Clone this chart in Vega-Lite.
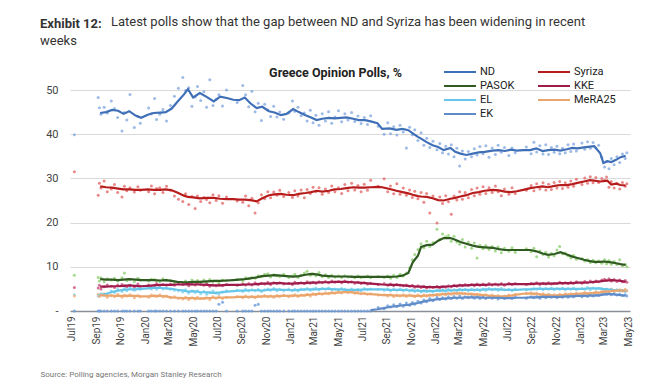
{
  "$schema": "https://vega.github.io/schema/vega-lite/v6.json",
  "width": 560,
  "height": 221,
  "autosize": {"type": "none"},
  "padding": {"left": 70, "top": 90, "right": 20, "bottom": 73},
  "background": "white",
  "config": {"view": {"stroke": null}, "font": "Roboto"},
  "title": {
    "text": "Exhibit 12:",
    "subtitle": ["\u200b\u00a0\u00a0\u00a0\u00a0\u00a0\u00a0\u00a0\u00a0\u00a0\u00a0\u00a0\u00a0\u00a0\u00a0\u00a0\u00a0\u00a0\u00a0\u00a0\u00a0\u00a0\u00a0Latest polls show that the gap between ND and Syriza has been widening in recent", "weeks"],
    "anchor": "start",
    "frame": "group",
    "dx": -30,
    "offset": 15,
    "fontSize": 13,
    "fontWeight": "bold",
    "color": "#333333",
    "subtitleFontSize": 13,
    "subtitleColor": "#333333",
    "subtitleFontWeight": "normal",
    "subtitlePadding": -15,
    "subtitleLineHeight": 19
  },
  "datasets": {
    "avg": [
      {"d": "2019-09-10", "ND": 44.8, "Syriza": 28.2, "PASOK": 7.2, "KKE": 5.5, "EL": 3.6, "MeRA25": 3.6},
      {"d": "2019-09-25", "ND": 45.0, "Syriza": 28.0, "PASOK": 7.1, "KKE": 5.5, "EL": 3.9, "MeRA25": 3.5},
      {"d": "2019-10-10", "ND": 45.5, "Syriza": 27.9, "PASOK": 7.1, "KKE": 5.6, "EL": 4.3, "MeRA25": 3.5},
      {"d": "2019-10-25", "ND": 45.3, "Syriza": 27.7, "PASOK": 7.0, "KKE": 5.6, "EL": 4.6, "MeRA25": 3.4},
      {"d": "2019-11-08", "ND": 44.6, "Syriza": 27.5, "PASOK": 7.1, "KKE": 5.7, "EL": 4.8, "MeRA25": 3.4},
      {"d": "2019-11-22", "ND": 45.2, "Syriza": 27.5, "PASOK": 7.2, "KKE": 5.8, "EL": 4.9, "MeRA25": 3.5},
      {"d": "2019-12-08", "ND": 44.2, "Syriza": 27.4, "PASOK": 7.1, "KKE": 5.7, "EL": 4.9, "MeRA25": 3.4},
      {"d": "2019-12-22", "ND": 43.7, "Syriza": 27.4, "PASOK": 7.0, "KKE": 5.6, "EL": 5.0, "MeRA25": 3.3},
      {"d": "2020-01-08", "ND": 44.4, "Syriza": 27.5, "PASOK": 7.0, "KKE": 5.7, "EL": 5.1, "MeRA25": 3.3},
      {"d": "2020-01-22", "ND": 44.8, "Syriza": 27.4, "PASOK": 7.0, "KKE": 5.8, "EL": 5.2, "MeRA25": 3.4},
      {"d": "2020-02-08", "ND": 44.9, "Syriza": 27.4, "PASOK": 6.9, "KKE": 5.9, "EL": 5.2, "MeRA25": 3.4},
      {"d": "2020-02-22", "ND": 45.0, "Syriza": 27.5, "PASOK": 7.0, "KKE": 5.9, "EL": 5.1, "MeRA25": 3.3},
      {"d": "2020-03-08", "ND": 45.8, "Syriza": 27.3, "PASOK": 6.8, "KKE": 5.9, "EL": 5.0, "MeRA25": 3.1},
      {"d": "2020-03-22", "ND": 47.3, "Syriza": 26.8, "PASOK": 6.6, "KKE": 6.0, "EL": 4.8, "MeRA25": 3.0},
      {"d": "2020-04-08", "ND": 49.0, "Syriza": 26.1, "PASOK": 6.5, "KKE": 6.0, "EL": 4.6, "MeRA25": 2.9},
      {"d": "2020-04-18", "ND": 50.2, "Syriza": 25.8, "PASOK": 6.5, "KKE": 6.1, "EL": 4.4, "MeRA25": 2.9},
      {"d": "2020-05-01", "ND": 48.3, "Syriza": 25.7, "PASOK": 6.6, "KKE": 6.0, "EL": 4.5, "MeRA25": 2.9},
      {"d": "2020-05-18", "ND": 49.3, "Syriza": 25.5, "PASOK": 6.6, "KKE": 6.0, "EL": 4.3, "MeRA25": 2.8},
      {"d": "2020-06-05", "ND": 48.4, "Syriza": 25.6, "PASOK": 6.7, "KKE": 5.9, "EL": 4.2, "MeRA25": 2.9},
      {"d": "2020-06-22", "ND": 47.4, "Syriza": 25.6, "PASOK": 6.8, "KKE": 5.8, "EL": 4.1, "MeRA25": 3.0},
      {"d": "2020-07-08", "ND": 48.5, "Syriza": 25.4, "PASOK": 6.8, "KKE": 5.8, "EL": 4.2, "MeRA25": 3.0},
      {"d": "2020-07-25", "ND": 48.2, "Syriza": 25.3, "PASOK": 6.9, "KKE": 5.9, "EL": 4.4, "MeRA25": 3.1},
      {"d": "2020-08-10", "ND": 47.8, "Syriza": 25.3, "PASOK": 7.0, "KKE": 5.9, "EL": 4.5, "MeRA25": 3.1},
      {"d": "2020-08-25", "ND": 47.7, "Syriza": 25.2, "PASOK": 7.1, "KKE": 5.9, "EL": 4.6, "MeRA25": 3.2},
      {"d": "2020-09-08", "ND": 48.3, "Syriza": 25.2, "PASOK": 7.2, "KKE": 6.0, "EL": 4.6, "MeRA25": 3.2},
      {"d": "2020-09-22", "ND": 47.0, "Syriza": 25.1, "PASOK": 7.4, "KKE": 6.0, "EL": 4.7, "MeRA25": 3.2},
      {"d": "2020-10-08", "ND": 45.9, "Syriza": 24.8, "PASOK": 7.6, "KKE": 6.1, "EL": 4.7, "MeRA25": 3.2},
      {"d": "2020-10-22", "ND": 46.2, "Syriza": 25.5, "PASOK": 7.9, "KKE": 6.2, "EL": 4.6, "MeRA25": 3.3},
      {"d": "2020-11-08", "ND": 45.2, "Syriza": 26.2, "PASOK": 8.0, "KKE": 6.2, "EL": 4.8, "MeRA25": 3.3},
      {"d": "2020-11-22", "ND": 44.9, "Syriza": 26.4, "PASOK": 8.1, "KKE": 6.3, "EL": 4.9, "MeRA25": 3.3},
      {"d": "2020-12-08", "ND": 44.3, "Syriza": 26.5, "PASOK": 8.0, "KKE": 6.3, "EL": 4.8, "MeRA25": 3.4},
      {"d": "2020-12-22", "ND": 44.6, "Syriza": 26.3, "PASOK": 7.9, "KKE": 6.2, "EL": 4.8, "MeRA25": 3.4},
      {"d": "2021-01-08", "ND": 45.7, "Syriza": 26.2, "PASOK": 7.8, "KKE": 6.2, "EL": 4.7, "MeRA25": 3.5},
      {"d": "2021-01-22", "ND": 45.0, "Syriza": 26.5, "PASOK": 7.9, "KKE": 6.3, "EL": 4.8, "MeRA25": 3.5},
      {"d": "2021-02-08", "ND": 44.3, "Syriza": 26.7, "PASOK": 8.2, "KKE": 6.3, "EL": 4.9, "MeRA25": 3.6},
      {"d": "2021-02-22", "ND": 43.8, "Syriza": 26.9, "PASOK": 8.4, "KKE": 6.4, "EL": 4.9, "MeRA25": 3.7},
      {"d": "2021-03-08", "ND": 43.2, "Syriza": 27.2, "PASOK": 8.3, "KKE": 6.4, "EL": 4.9, "MeRA25": 3.8},
      {"d": "2021-03-22", "ND": 43.5, "Syriza": 27.0, "PASOK": 8.0, "KKE": 6.5, "EL": 5.0, "MeRA25": 3.9},
      {"d": "2021-04-08", "ND": 43.7, "Syriza": 27.2, "PASOK": 7.9, "KKE": 6.5, "EL": 5.0, "MeRA25": 4.0},
      {"d": "2021-04-22", "ND": 43.6, "Syriza": 27.5, "PASOK": 7.8, "KKE": 6.6, "EL": 4.9, "MeRA25": 4.1},
      {"d": "2021-05-08", "ND": 43.7, "Syriza": 27.6, "PASOK": 7.8, "KKE": 6.6, "EL": 4.9, "MeRA25": 4.2},
      {"d": "2021-05-22", "ND": 43.8, "Syriza": 27.8, "PASOK": 7.8, "KKE": 6.6, "EL": 4.8, "MeRA25": 4.3},
      {"d": "2021-06-08", "ND": 43.5, "Syriza": 28.0, "PASOK": 7.7, "KKE": 6.5, "EL": 4.8, "MeRA25": 4.2},
      {"d": "2021-06-22", "ND": 43.2, "Syriza": 27.9, "PASOK": 7.7, "KKE": 6.4, "EL": 4.8, "MeRA25": 4.0},
      {"d": "2021-07-08", "ND": 43.2, "Syriza": 27.9, "PASOK": 7.7, "KKE": 6.3, "EL": 4.9, "MeRA25": 3.9},
      {"d": "2021-07-22", "ND": 42.9, "Syriza": 28.0, "PASOK": 7.7, "KKE": 6.2, "EL": 4.9, "MeRA25": 3.8, "EK": 0.2},
      {"d": "2021-08-08", "ND": 42.5, "Syriza": 28.1, "PASOK": 7.7, "KKE": 6.1, "EL": 4.9, "MeRA25": 3.7, "EK": 0.4},
      {"d": "2021-08-20", "ND": 41.2, "Syriza": 28.0, "PASOK": 7.7, "KKE": 6.0, "EL": 4.9, "MeRA25": 3.6, "EK": 0.6},
      {"d": "2021-09-08", "ND": 41.3, "Syriza": 27.6, "PASOK": 7.7, "KKE": 5.9, "EL": 4.8, "MeRA25": 3.6, "EK": 0.9},
      {"d": "2021-09-25", "ND": 41.0, "Syriza": 27.2, "PASOK": 7.8, "KKE": 5.9, "EL": 4.8, "MeRA25": 3.5, "EK": 1.1},
      {"d": "2021-10-10", "ND": 41.2, "Syriza": 26.9, "PASOK": 8.0, "KKE": 5.8, "EL": 4.8, "MeRA25": 3.5, "EK": 1.3},
      {"d": "2021-10-25", "ND": 40.9, "Syriza": 26.6, "PASOK": 8.6, "KKE": 5.7, "EL": 4.7, "MeRA25": 3.5, "EK": 1.4},
      {"d": "2021-11-05", "ND": 40.2, "Syriza": 26.3, "PASOK": 11.0, "KKE": 5.6, "EL": 4.6, "MeRA25": 3.4, "EK": 1.6},
      {"d": "2021-11-18", "ND": 39.4, "Syriza": 26.0, "PASOK": 12.5, "KKE": 5.5, "EL": 4.6, "MeRA25": 3.4, "EK": 1.8},
      {"d": "2021-11-26", "ND": 39.0, "Syriza": 25.9, "PASOK": 14.5, "KKE": 5.5, "EL": 4.5, "MeRA25": 3.4, "EK": 2.0},
      {"d": "2021-12-10", "ND": 38.2, "Syriza": 25.8, "PASOK": 14.9, "KKE": 5.4, "EL": 4.5, "MeRA25": 3.5, "EK": 2.3},
      {"d": "2021-12-25", "ND": 37.5, "Syriza": 25.5, "PASOK": 15.0, "KKE": 5.4, "EL": 4.5, "MeRA25": 3.6, "EK": 2.5},
      {"d": "2022-01-08", "ND": 37.1, "Syriza": 25.1, "PASOK": 15.9, "KKE": 5.4, "EL": 4.6, "MeRA25": 3.7, "EK": 2.7},
      {"d": "2022-01-22", "ND": 36.4, "Syriza": 25.0, "PASOK": 16.5, "KKE": 5.5, "EL": 4.6, "MeRA25": 3.8, "EK": 2.8},
      {"d": "2022-02-08", "ND": 36.9, "Syriza": 25.4, "PASOK": 16.5, "KKE": 5.6, "EL": 4.7, "MeRA25": 3.9, "EK": 2.9},
      {"d": "2022-02-20", "ND": 36.0, "Syriza": 25.6, "PASOK": 16.1, "KKE": 5.7, "EL": 4.7, "MeRA25": 4.0, "EK": 3.0},
      {"d": "2022-03-05", "ND": 35.6, "Syriza": 25.9, "PASOK": 15.6, "KKE": 5.8, "EL": 4.8, "MeRA25": 4.0, "EK": 3.0},
      {"d": "2022-03-20", "ND": 35.3, "Syriza": 26.2, "PASOK": 15.2, "KKE": 5.8, "EL": 4.8, "MeRA25": 3.9, "EK": 3.1},
      {"d": "2022-04-05", "ND": 35.6, "Syriza": 26.7, "PASOK": 14.8, "KKE": 5.9, "EL": 4.8, "MeRA25": 3.8, "EK": 3.1},
      {"d": "2022-04-20", "ND": 35.9, "Syriza": 26.9, "PASOK": 14.5, "KKE": 5.9, "EL": 4.8, "MeRA25": 3.7, "EK": 3.1},
      {"d": "2022-05-05", "ND": 36.0, "Syriza": 27.2, "PASOK": 14.4, "KKE": 5.9, "EL": 4.9, "MeRA25": 3.6, "EK": 3.0},
      {"d": "2022-05-25", "ND": 36.3, "Syriza": 27.4, "PASOK": 14.3, "KKE": 6.0, "EL": 4.9, "MeRA25": 3.4, "EK": 3.0},
      {"d": "2022-06-10", "ND": 36.4, "Syriza": 27.3, "PASOK": 14.0, "KKE": 6.0, "EL": 4.9, "MeRA25": 3.3, "EK": 3.0},
      {"d": "2022-06-25", "ND": 36.2, "Syriza": 27.0, "PASOK": 13.8, "KKE": 6.0, "EL": 4.8, "MeRA25": 3.3, "EK": 2.9},
      {"d": "2022-07-10", "ND": 36.5, "Syriza": 26.9, "PASOK": 13.8, "KKE": 6.1, "EL": 4.8, "MeRA25": 3.5, "EK": 2.9},
      {"d": "2022-07-25", "ND": 36.3, "Syriza": 27.1, "PASOK": 13.8, "KKE": 6.1, "EL": 4.8, "MeRA25": 3.7, "EK": 3.0},
      {"d": "2022-08-10", "ND": 36.4, "Syriza": 27.4, "PASOK": 13.8, "KKE": 6.1, "EL": 4.9, "MeRA25": 3.9, "EK": 3.0},
      {"d": "2022-08-28", "ND": 36.4, "Syriza": 27.8, "PASOK": 13.8, "KKE": 6.1, "EL": 4.9, "MeRA25": 4.0, "EK": 3.1},
      {"d": "2022-09-12", "ND": 36.8, "Syriza": 28.0, "PASOK": 13.5, "KKE": 6.2, "EL": 5.0, "MeRA25": 3.9, "EK": 3.1},
      {"d": "2022-09-28", "ND": 36.2, "Syriza": 28.2, "PASOK": 13.0, "KKE": 6.2, "EL": 5.0, "MeRA25": 3.7, "EK": 3.2},
      {"d": "2022-10-12", "ND": 36.4, "Syriza": 28.0, "PASOK": 12.7, "KKE": 6.2, "EL": 5.0, "MeRA25": 3.6, "EK": 3.2},
      {"d": "2022-10-28", "ND": 36.5, "Syriza": 28.3, "PASOK": 12.9, "KKE": 6.2, "EL": 5.0, "MeRA25": 3.5, "EK": 3.2},
      {"d": "2022-11-12", "ND": 36.3, "Syriza": 28.5, "PASOK": 13.3, "KKE": 6.3, "EL": 5.0, "MeRA25": 3.6, "EK": 3.2},
      {"d": "2022-11-28", "ND": 36.6, "Syriza": 28.5, "PASOK": 12.8, "KKE": 6.3, "EL": 5.0, "MeRA25": 3.7, "EK": 3.3},
      {"d": "2022-12-12", "ND": 36.9, "Syriza": 28.7, "PASOK": 12.3, "KKE": 6.3, "EL": 5.0, "MeRA25": 3.8, "EK": 3.3},
      {"d": "2022-12-25", "ND": 36.8, "Syriza": 29.0, "PASOK": 12.0, "KKE": 6.4, "EL": 5.0, "MeRA25": 3.9, "EK": 3.4},
      {"d": "2023-01-10", "ND": 37.0, "Syriza": 29.3, "PASOK": 11.6, "KKE": 6.4, "EL": 5.0, "MeRA25": 4.0, "EK": 3.4},
      {"d": "2023-01-25", "ND": 37.2, "Syriza": 29.6, "PASOK": 11.3, "KKE": 6.5, "EL": 5.1, "MeRA25": 4.0, "EK": 3.5},
      {"d": "2023-02-05", "ND": 37.3, "Syriza": 29.5, "PASOK": 11.1, "KKE": 6.6, "EL": 5.1, "MeRA25": 4.1, "EK": 3.5},
      {"d": "2023-02-20", "ND": 35.7, "Syriza": 29.3, "PASOK": 11.1, "KKE": 6.7, "EL": 5.1, "MeRA25": 4.2, "EK": 3.6},
      {"d": "2023-02-28", "ND": 33.5, "Syriza": 29.4, "PASOK": 11.2, "KKE": 6.8, "EL": 5.0, "MeRA25": 4.3, "EK": 3.7},
      {"d": "2023-03-10", "ND": 33.9, "Syriza": 29.5, "PASOK": 11.1, "KKE": 6.9, "EL": 4.9, "MeRA25": 4.4, "EK": 3.8},
      {"d": "2023-03-20", "ND": 33.7, "Syriza": 28.6, "PASOK": 11.0, "KKE": 7.0, "EL": 4.8, "MeRA25": 4.5, "EK": 3.8},
      {"d": "2023-04-01", "ND": 34.2, "Syriza": 28.8, "PASOK": 10.8, "KKE": 6.9, "EL": 4.7, "MeRA25": 4.6, "EK": 3.7},
      {"d": "2023-04-12", "ND": 34.8, "Syriza": 28.5, "PASOK": 10.6, "KKE": 6.8, "EL": 4.6, "MeRA25": 4.6, "EK": 3.6},
      {"d": "2023-04-25", "ND": 35.1, "Syriza": 28.4, "PASOK": 10.4, "KKE": 6.6, "EL": 4.5, "MeRA25": 4.6, "EK": 3.5}
    ],
    "polls": [
      {"d": "2019-07-07", "ND": 39.9, "Syriza": 31.5, "PASOK": 8.1, "KKE": 5.3, "EL": 3.7, "MeRA25": 3.4, "EK": 0},
      {"d": "2019-09-05", "ND": 48.3, "Syriza": 26.2, "PASOK": 7.6, "KKE": 5.2, "EL": 3.4, "MeRA25": 3.8, "EK": 0},
      {"d": "2019-09-08", "ND": 46.0, "Syriza": 28.9, "PASOK": 6.8, "KKE": 5.8, "EL": 3.6, "MeRA25": 3.3, "EK": 0},
      {"d": "2019-09-12", "ND": 44.5, "Syriza": 27.8, "PASOK": 7.5, "KKE": 5.0, "EL": 3.9, "MeRA25": 3.6, "EK": 0},
      {"d": "2019-09-20", "ND": 46.1, "Syriza": 29.4, "PASOK": 6.6, "KKE": 5.5, "EL": 3.5, "MeRA25": 3.9, "EK": 0},
      {"d": "2019-09-28", "ND": 44.8, "Syriza": 27.0, "PASOK": 7.3, "KKE": 5.9, "EL": 3.8, "MeRA25": 3.1, "EK": 0},
      {"d": "2019-10-08", "ND": 47.5, "Syriza": 27.6, "PASOK": 7.0, "KKE": 5.6, "EL": 4.5, "MeRA25": 3.5, "EK": 0},
      {"d": "2019-10-16", "ND": 45.8, "Syriza": 28.6, "PASOK": 7.4, "KKE": 5.3, "EL": 4.2, "MeRA25": 3.2, "EK": 0},
      {"d": "2019-10-24", "ND": 43.8, "Syriza": 26.8, "PASOK": 6.8, "KKE": 5.9, "EL": 4.9, "MeRA25": 3.8, "EK": 0},
      {"d": "2019-11-04", "ND": 40.7, "Syriza": 25.8, "PASOK": 7.5, "KKE": 6.0, "EL": 4.4, "MeRA25": 3.1, "EK": 0},
      {"d": "2019-11-10", "ND": 44.9, "Syriza": 28.2, "PASOK": 8.6, "KKE": 5.7, "EL": 5.1, "MeRA25": 3.6, "EK": 0},
      {"d": "2019-11-16", "ND": 43.2, "Syriza": 27.2, "PASOK": 6.9, "KKE": 5.5, "EL": 4.6, "MeRA25": 3.4, "EK": 0},
      {"d": "2019-11-24", "ND": 49.0, "Syriza": 27.9, "PASOK": 7.2, "KKE": 5.8, "EL": 5.3, "MeRA25": 3.7, "EK": 0},
      {"d": "2019-12-05", "ND": 41.5, "Syriza": 26.9, "PASOK": 6.6, "KKE": 5.4, "EL": 4.7, "MeRA25": 3.0, "EK": 0},
      {"d": "2019-12-14", "ND": 44.0, "Syriza": 28.1, "PASOK": 7.4, "KKE": 6.1, "EL": 5.2, "MeRA25": 3.5, "EK": 0},
      {"d": "2019-12-20", "ND": 42.5, "Syriza": 27.3, "PASOK": 7.0, "KKE": 5.6, "EL": 4.9, "MeRA25": 3.2, "EK": 0},
      {"d": "2020-01-10", "ND": 45.9, "Syriza": 27.0, "PASOK": 6.8, "KKE": 5.9, "EL": 5.4, "MeRA25": 3.1, "EK": 0},
      {"d": "2020-01-17", "ND": 44.6, "Syriza": 28.3, "PASOK": 7.2, "KKE": 5.4, "EL": 5.0, "MeRA25": 3.6, "EK": 0},
      {"d": "2020-01-25", "ND": 48.1, "Syriza": 26.5, "PASOK": 7.1, "KKE": 5.8, "EL": 5.5, "MeRA25": 3.4, "EK": 0},
      {"d": "2020-01-30", "ND": 43.3, "Syriza": 27.7, "PASOK": 6.9, "KKE": 6.2, "EL": 4.9, "MeRA25": 3.3, "EK": 0},
      {"d": "2020-02-07", "ND": 44.5, "Syriza": 27.9, "PASOK": 6.7, "KKE": 5.7, "EL": 5.3, "MeRA25": 3.6, "EK": 0},
      {"d": "2020-02-15", "ND": 45.6, "Syriza": 26.8, "PASOK": 7.3, "KKE": 6.0, "EL": 5.0, "MeRA25": 3.2, "EK": 0},
      {"d": "2020-02-24", "ND": 43.0, "Syriza": 28.2, "PASOK": 7.0, "KKE": 5.8, "EL": 5.2, "MeRA25": 3.4, "EK": 0},
      {"d": "2020-03-05", "ND": 46.5, "Syriza": 27.4, "PASOK": 6.9, "KKE": 6.1, "EL": 4.9, "MeRA25": 3.0, "EK": 0},
      {"d": "2020-03-15", "ND": 48.6, "Syriza": 26.0, "PASOK": 6.3, "KKE": 5.8, "EL": 4.7, "MeRA25": 3.2, "EK": 0},
      {"d": "2020-03-25", "ND": 50.4, "Syriza": 25.3, "PASOK": 6.5, "KKE": 6.2, "EL": 4.6, "MeRA25": 2.8, "EK": 0},
      {"d": "2020-04-05", "ND": 52.8, "Syriza": 24.8, "PASOK": 6.2, "KKE": 6.0, "EL": 4.3, "MeRA25": 2.7, "EK": 0},
      {"d": "2020-04-12", "ND": 49.9, "Syriza": 26.5, "PASOK": 6.8, "KKE": 6.3, "EL": 4.8, "MeRA25": 3.1, "EK": 0},
      {"d": "2020-04-20", "ND": 50.5, "Syriza": 24.1, "PASOK": 6.4, "KKE": 5.7, "EL": 4.1, "MeRA25": 2.6, "EK": 0},
      {"d": "2020-04-28", "ND": 46.3, "Syriza": 25.9, "PASOK": 7.0, "KKE": 6.1, "EL": 4.5, "MeRA25": 3.0, "EK": 0},
      {"d": "2020-05-06", "ND": 48.4, "Syriza": 23.2, "PASOK": 6.3, "KKE": 5.9, "EL": 4.2, "MeRA25": 2.7, "EK": 0},
      {"d": "2020-05-12", "ND": 50.8, "Syriza": 26.0, "PASOK": 6.9, "KKE": 6.2, "EL": 4.6, "MeRA25": 3.1, "EK": 0},
      {"d": "2020-05-20", "ND": 47.6, "Syriza": 24.8, "PASOK": 6.5, "KKE": 6.0, "EL": 3.9, "MeRA25": 2.9, "EK": 0},
      {"d": "2020-05-28", "ND": 49.6, "Syriza": 25.7, "PASOK": 7.0, "KKE": 5.8, "EL": 4.4, "MeRA25": 2.8, "EK": 0},
      {"d": "2020-06-04", "ND": 46.1, "Syriza": 25.2, "PASOK": 6.4, "KKE": 6.1, "EL": 3.8, "MeRA25": 3.0, "EK": 0},
      {"d": "2020-06-12", "ND": 52.3, "Syriza": 24.5, "PASOK": 7.1, "KKE": 5.6, "EL": 4.2, "MeRA25": 2.6, "EK": 0},
      {"d": "2020-06-20", "ND": 46.5, "Syriza": 26.3, "PASOK": 6.6, "KKE": 5.9, "EL": 4.5, "MeRA25": 3.2, "EK": 0},
      {"d": "2020-06-28", "ND": 47.9, "Syriza": 25.0, "PASOK": 6.8, "KKE": 5.7, "EL": 4.0, "MeRA25": 2.9, "EK": 0},
      {"d": "2020-07-05", "ND": 48.9, "Syriza": 26.1, "PASOK": 6.3, "KKE": 5.9, "EL": 3.9, "MeRA25": 3.3, "EK": 1.5},
      {"d": "2020-07-14", "ND": 46.4, "Syriza": 24.4, "PASOK": 7.0, "KKE": 5.7, "EL": 4.3, "MeRA25": 2.8, "EK": 2.0},
      {"d": "2020-07-24", "ND": 50.0, "Syriza": 25.8, "PASOK": 6.9, "KKE": 6.0, "EL": 4.6, "MeRA25": 3.1, "EK": 0},
      {"d": "2020-08-20", "ND": 47.2, "Syriza": 24.9, "PASOK": 7.2, "KKE": 5.8, "EL": 4.7, "MeRA25": 3.3, "EK": 0},
      {"d": "2020-09-03", "ND": 51.0, "Syriza": 24.6, "PASOK": 6.8, "KKE": 6.1, "EL": 4.4, "MeRA25": 3.0, "EK": 0},
      {"d": "2020-09-10", "ND": 48.9, "Syriza": 26.0, "PASOK": 7.5, "KKE": 5.9, "EL": 4.9, "MeRA25": 3.4, "EK": 0},
      {"d": "2020-09-18", "ND": 46.2, "Syriza": 23.8, "PASOK": 7.3, "KKE": 6.2, "EL": 4.5, "MeRA25": 3.1, "EK": 0},
      {"d": "2020-09-26", "ND": 49.7, "Syriza": 25.5, "PASOK": 7.6, "KKE": 5.9, "EL": 4.8, "MeRA25": 3.3, "EK": 0},
      {"d": "2020-10-04", "ND": 45.1, "Syriza": 22.2, "PASOK": 7.4, "KKE": 6.4, "EL": 4.6, "MeRA25": 3.0, "EK": 1.3},
      {"d": "2020-10-12", "ND": 47.0, "Syriza": 24.5, "PASOK": 8.0, "KKE": 6.0, "EL": 4.9, "MeRA25": 3.4, "EK": 1.5},
      {"d": "2020-10-20", "ND": 43.1, "Syriza": 26.3, "PASOK": 7.8, "KKE": 6.3, "EL": 4.4, "MeRA25": 3.2, "EK": 0},
      {"d": "2020-10-28", "ND": 46.8, "Syriza": 25.4, "PASOK": 8.3, "KKE": 6.1, "EL": 4.8, "MeRA25": 3.5, "EK": 0},
      {"d": "2020-11-05", "ND": 45.5, "Syriza": 27.0, "PASOK": 8.4, "KKE": 6.5, "EL": 5.0, "MeRA25": 3.2, "EK": 0},
      {"d": "2020-11-12", "ND": 44.0, "Syriza": 25.6, "PASOK": 7.7, "KKE": 6.0, "EL": 4.7, "MeRA25": 3.4, "EK": 0},
      {"d": "2020-11-20", "ND": 46.3, "Syriza": 26.9, "PASOK": 8.2, "KKE": 6.4, "EL": 5.1, "MeRA25": 3.1, "EK": 0},
      {"d": "2020-11-28", "ND": 43.9, "Syriza": 26.2, "PASOK": 8.0, "KKE": 6.2, "EL": 4.6, "MeRA25": 3.5, "EK": 0},
      {"d": "2020-12-05", "ND": 45.0, "Syriza": 27.3, "PASOK": 7.8, "KKE": 6.4, "EL": 4.9, "MeRA25": 3.3, "EK": 0},
      {"d": "2020-12-15", "ND": 43.4, "Syriza": 25.9, "PASOK": 8.3, "KKE": 6.1, "EL": 4.6, "MeRA25": 3.6, "EK": 0},
      {"d": "2020-12-28", "ND": 44.8, "Syriza": 26.8, "PASOK": 7.6, "KKE": 6.3, "EL": 5.0, "MeRA25": 3.2, "EK": 0},
      {"d": "2021-01-06", "ND": 47.5, "Syriza": 25.7, "PASOK": 7.9, "KKE": 6.0, "EL": 4.6, "MeRA25": 3.4, "EK": 0},
      {"d": "2021-01-12", "ND": 45.2, "Syriza": 27.2, "PASOK": 8.3, "KKE": 6.5, "EL": 4.9, "MeRA25": 3.7, "EK": 0},
      {"d": "2021-01-20", "ND": 46.1, "Syriza": 26.0, "PASOK": 7.6, "KKE": 6.2, "EL": 4.5, "MeRA25": 3.3, "EK": 0},
      {"d": "2021-01-28", "ND": 44.2, "Syriza": 27.4, "PASOK": 8.1, "KKE": 6.4, "EL": 5.0, "MeRA25": 3.6, "EK": 0},
      {"d": "2021-02-05", "ND": 44.8, "Syriza": 25.6, "PASOK": 8.6, "KKE": 6.2, "EL": 4.8, "MeRA25": 3.5, "EK": 0},
      {"d": "2021-02-12", "ND": 43.0, "Syriza": 27.5, "PASOK": 9.0, "KKE": 6.6, "EL": 5.1, "MeRA25": 3.8, "EK": 0},
      {"d": "2021-02-20", "ND": 45.4, "Syriza": 26.6, "PASOK": 8.1, "KKE": 6.3, "EL": 4.7, "MeRA25": 3.4, "EK": 0},
      {"d": "2021-02-27", "ND": 42.6, "Syriza": 28.0, "PASOK": 8.4, "KKE": 6.5, "EL": 5.0, "MeRA25": 3.9, "EK": 0},
      {"d": "2021-03-06", "ND": 44.3, "Syriza": 27.0, "PASOK": 8.0, "KKE": 6.3, "EL": 5.2, "MeRA25": 3.7, "EK": 0},
      {"d": "2021-03-14", "ND": 42.0, "Syriza": 27.9, "PASOK": 8.7, "KKE": 6.6, "EL": 4.8, "MeRA25": 4.0, "EK": 0},
      {"d": "2021-03-22", "ND": 44.6, "Syriza": 26.4, "PASOK": 7.8, "KKE": 6.4, "EL": 5.1, "MeRA25": 3.8, "EK": 0},
      {"d": "2021-03-30", "ND": 43.0, "Syriza": 27.6, "PASOK": 8.2, "KKE": 6.7, "EL": 4.9, "MeRA25": 4.1, "EK": 0},
      {"d": "2021-04-07", "ND": 45.1, "Syriza": 26.8, "PASOK": 7.6, "KKE": 6.4, "EL": 5.2, "MeRA25": 3.9, "EK": 0},
      {"d": "2021-04-15", "ND": 42.5, "Syriza": 28.3, "PASOK": 8.1, "KKE": 6.8, "EL": 4.8, "MeRA25": 4.2, "EK": 0},
      {"d": "2021-04-23", "ND": 43.9, "Syriza": 27.0, "PASOK": 7.7, "KKE": 6.5, "EL": 5.0, "MeRA25": 4.0, "EK": 0},
      {"d": "2021-05-02", "ND": 45.3, "Syriza": 27.9, "PASOK": 7.9, "KKE": 6.7, "EL": 4.7, "MeRA25": 4.4, "EK": 0},
      {"d": "2021-05-10", "ND": 42.8, "Syriza": 26.6, "PASOK": 7.6, "KKE": 6.4, "EL": 5.1, "MeRA25": 4.1, "EK": 0},
      {"d": "2021-05-18", "ND": 44.6, "Syriza": 28.6, "PASOK": 8.0, "KKE": 6.8, "EL": 4.9, "MeRA25": 4.5, "EK": 0},
      {"d": "2021-05-26", "ND": 43.2, "Syriza": 27.2, "PASOK": 7.7, "KKE": 6.5, "EL": 4.6, "MeRA25": 4.2, "EK": 0},
      {"d": "2021-06-04", "ND": 44.9, "Syriza": 28.9, "PASOK": 7.8, "KKE": 6.6, "EL": 5.0, "MeRA25": 4.3, "EK": 0},
      {"d": "2021-06-12", "ND": 42.9, "Syriza": 27.4, "PASOK": 7.5, "KKE": 6.3, "EL": 4.7, "MeRA25": 4.0, "EK": 0},
      {"d": "2021-06-20", "ND": 44.1, "Syriza": 28.4, "PASOK": 7.9, "KKE": 6.5, "EL": 4.9, "MeRA25": 4.4, "EK": 0},
      {"d": "2021-06-28", "ND": 42.4, "Syriza": 27.0, "PASOK": 7.6, "KKE": 6.2, "EL": 4.6, "MeRA25": 3.9, "EK": 0},
      {"d": "2021-07-06", "ND": 43.8, "Syriza": 28.7, "PASOK": 7.7, "KKE": 6.4, "EL": 5.1, "MeRA25": 4.1, "EK": 0},
      {"d": "2021-07-14", "ND": 42.2, "Syriza": 27.3, "PASOK": 7.9, "KKE": 6.1, "EL": 4.8, "MeRA25": 3.8, "EK": 0},
      {"d": "2021-07-22", "ND": 44.2, "Syriza": 29.6, "PASOK": 7.5, "KKE": 6.3, "EL": 5.0, "MeRA25": 3.9, "EK": 0},
      {"d": "2021-08-10", "ND": 41.8, "Syriza": 28.2, "PASOK": 7.8, "KKE": 6.0, "EL": 4.9, "MeRA25": 3.6, "EK": 0.8},
      {"d": "2021-08-25", "ND": 40.0, "Syriza": 29.9, "PASOK": 7.6, "KKE": 6.2, "EL": 4.7, "MeRA25": 3.7, "EK": 0.5},
      {"d": "2021-09-03", "ND": 42.6, "Syriza": 27.0, "PASOK": 7.9, "KKE": 5.8, "EL": 5.0, "MeRA25": 3.4, "EK": 1.2},
      {"d": "2021-09-10", "ND": 40.1, "Syriza": 28.3, "PASOK": 7.4, "KKE": 6.1, "EL": 4.6, "MeRA25": 3.7, "EK": 0.9},
      {"d": "2021-09-18", "ND": 41.7, "Syriza": 26.5, "PASOK": 8.1, "KKE": 5.7, "EL": 4.9, "MeRA25": 3.3, "EK": 1.4},
      {"d": "2021-09-26", "ND": 39.8, "Syriza": 28.8, "PASOK": 7.6, "KKE": 6.0, "EL": 4.7, "MeRA25": 3.6, "EK": 1.0},
      {"d": "2021-10-04", "ND": 42.0, "Syriza": 26.4, "PASOK": 8.3, "KKE": 5.9, "EL": 5.0, "MeRA25": 3.4, "EK": 1.6},
      {"d": "2021-10-12", "ND": 40.5, "Syriza": 27.8, "PASOK": 7.9, "KKE": 5.7, "EL": 4.6, "MeRA25": 3.7, "EK": 1.1},
      {"d": "2021-10-20", "ND": 36.9, "Syriza": 26.2, "PASOK": 8.6, "KKE": 5.9, "EL": 4.9, "MeRA25": 3.3, "EK": 1.8},
      {"d": "2021-10-28", "ND": 41.6, "Syriza": 27.4, "PASOK": 9.8, "KKE": 5.6, "EL": 4.5, "MeRA25": 3.6, "EK": 1.3},
      {"d": "2021-11-04", "ND": 39.9, "Syriza": 25.7, "PASOK": 11.6, "KKE": 5.8, "EL": 4.8, "MeRA25": 3.5, "EK": 1.9},
      {"d": "2021-11-10", "ND": 41.0, "Syriza": 27.1, "PASOK": 12.8, "KKE": 5.4, "EL": 4.4, "MeRA25": 3.2, "EK": 1.5},
      {"d": "2021-11-18", "ND": 38.6, "Syriza": 25.4, "PASOK": 13.9, "KKE": 5.7, "EL": 4.7, "MeRA25": 3.6, "EK": 2.2},
      {"d": "2021-11-26", "ND": 40.3, "Syriza": 26.8, "PASOK": 15.2, "KKE": 5.3, "EL": 4.3, "MeRA25": 3.3, "EK": 1.8},
      {"d": "2021-12-03", "ND": 37.5, "Syriza": 24.6, "PASOK": 14.3, "KKE": 5.6, "EL": 4.7, "MeRA25": 3.7, "EK": 2.5},
      {"d": "2021-12-10", "ND": 39.1, "Syriza": 26.6, "PASOK": 15.8, "KKE": 5.2, "EL": 4.4, "MeRA25": 3.4, "EK": 2.1},
      {"d": "2021-12-18", "ND": 37.0, "Syriza": 22.2, "PASOK": 14.6, "KKE": 5.5, "EL": 4.6, "MeRA25": 3.6, "EK": 2.8},
      {"d": "2021-12-26", "ND": 38.4, "Syriza": 26.0, "PASOK": 15.5, "KKE": 5.3, "EL": 4.3, "MeRA25": 3.5, "EK": 2.3},
      {"d": "2022-01-05", "ND": 36.5, "Syriza": 19.9, "PASOK": 18.5, "KKE": 5.6, "EL": 4.7, "MeRA25": 3.8, "EK": 3.1},
      {"d": "2022-01-12", "ND": 37.9, "Syriza": 25.8, "PASOK": 16.2, "KKE": 5.2, "EL": 4.5, "MeRA25": 3.6, "EK": 2.6},
      {"d": "2022-01-19", "ND": 35.8, "Syriza": 24.3, "PASOK": 17.4, "KKE": 5.5, "EL": 4.8, "MeRA25": 3.9, "EK": 3.0},
      {"d": "2022-01-27", "ND": 37.3, "Syriza": 26.1, "PASOK": 16.8, "KKE": 5.4, "EL": 4.4, "MeRA25": 3.7, "EK": 2.7},
      {"d": "2022-02-03", "ND": 35.5, "Syriza": 24.7, "PASOK": 17.1, "KKE": 5.7, "EL": 4.9, "MeRA25": 4.0, "EK": 3.2},
      {"d": "2022-02-10", "ND": 37.6, "Syriza": 21.9, "PASOK": 15.8, "KKE": 5.5, "EL": 4.5, "MeRA25": 3.8, "EK": 2.8},
      {"d": "2022-02-17", "ND": 34.9, "Syriza": 26.0, "PASOK": 16.9, "KKE": 5.8, "EL": 4.8, "MeRA25": 4.1, "EK": 3.3},
      {"d": "2022-02-24", "ND": 36.8, "Syriza": 25.1, "PASOK": 15.6, "KKE": 5.6, "EL": 4.6, "MeRA25": 3.9, "EK": 2.9},
      {"d": "2022-03-03", "ND": 32.8, "Syriza": 27.0, "PASOK": 15.1, "KKE": 5.9, "EL": 5.0, "MeRA25": 4.1, "EK": 3.4},
      {"d": "2022-03-10", "ND": 36.2, "Syriza": 25.3, "PASOK": 16.2, "KKE": 5.7, "EL": 4.7, "MeRA25": 3.9, "EK": 2.8},
      {"d": "2022-03-17", "ND": 34.4, "Syriza": 26.8, "PASOK": 14.5, "KKE": 6.0, "EL": 4.9, "MeRA25": 4.0, "EK": 3.2},
      {"d": "2022-03-25", "ND": 36.1, "Syriza": 25.6, "PASOK": 15.6, "KKE": 5.8, "EL": 4.6, "MeRA25": 3.8, "EK": 3.0},
      {"d": "2022-04-02", "ND": 34.9, "Syriza": 27.5, "PASOK": 14.2, "KKE": 6.0, "EL": 5.0, "MeRA25": 3.9, "EK": 3.3},
      {"d": "2022-04-09", "ND": 36.7, "Syriza": 26.1, "PASOK": 15.4, "KKE": 5.7, "EL": 4.7, "MeRA25": 3.7, "EK": 2.9},
      {"d": "2022-04-16", "ND": 35.3, "Syriza": 27.8, "PASOK": 12.0, "KKE": 6.1, "EL": 4.9, "MeRA25": 3.8, "EK": 3.2},
      {"d": "2022-04-23", "ND": 37.2, "Syriza": 26.4, "PASOK": 14.9, "KKE": 5.8, "EL": 4.6, "MeRA25": 3.6, "EK": 2.8},
      {"d": "2022-05-01", "ND": 35.6, "Syriza": 28.1, "PASOK": 14.1, "KKE": 6.1, "EL": 5.0, "MeRA25": 3.5, "EK": 3.1},
      {"d": "2022-05-08", "ND": 37.4, "Syriza": 26.6, "PASOK": 14.8, "KKE": 5.8, "EL": 4.7, "MeRA25": 3.7, "EK": 2.8},
      {"d": "2022-05-16", "ND": 34.8, "Syriza": 27.9, "PASOK": 13.9, "KKE": 6.2, "EL": 5.1, "MeRA25": 3.3, "EK": 3.2},
      {"d": "2022-05-24", "ND": 36.9, "Syriza": 26.8, "PASOK": 14.6, "KKE": 5.9, "EL": 4.8, "MeRA25": 3.6, "EK": 2.9},
      {"d": "2022-06-01", "ND": 35.4, "Syriza": 28.3, "PASOK": 13.6, "KKE": 6.1, "EL": 5.0, "MeRA25": 3.2, "EK": 3.1},
      {"d": "2022-06-08", "ND": 37.5, "Syriza": 27.0, "PASOK": 14.5, "KKE": 5.9, "EL": 4.7, "MeRA25": 3.5, "EK": 2.7},
      {"d": "2022-06-16", "ND": 35.9, "Syriza": 26.1, "PASOK": 13.2, "KKE": 6.2, "EL": 5.1, "MeRA25": 3.1, "EK": 3.0},
      {"d": "2022-06-24", "ND": 37.0, "Syriza": 27.6, "PASOK": 14.2, "KKE": 5.8, "EL": 4.8, "MeRA25": 3.4, "EK": 2.8},
      {"d": "2022-07-05", "ND": 35.2, "Syriza": 26.4, "PASOK": 13.5, "KKE": 6.3, "EL": 4.9, "MeRA25": 3.6, "EK": 3.1},
      {"d": "2022-07-13", "ND": 36.9, "Syriza": 27.9, "PASOK": 14.3, "KKE": 6.0, "EL": 4.6, "MeRA25": 3.4, "EK": 2.8},
      {"d": "2022-07-21", "ND": 35.8, "Syriza": 26.6, "PASOK": 13.3, "KKE": 6.2, "EL": 5.0, "MeRA25": 3.8, "EK": 3.2},
      {"d": "2022-08-18", "ND": 37.1, "Syriza": 27.3, "PASOK": 14.1, "KKE": 6.0, "EL": 4.8, "MeRA25": 4.0, "EK": 2.9},
      {"d": "2022-08-30", "ND": 35.6, "Syriza": 28.4, "PASOK": 13.4, "KKE": 6.3, "EL": 5.0, "MeRA25": 4.1, "EK": 3.2},
      {"d": "2022-09-06", "ND": 38.2, "Syriza": 27.2, "PASOK": 14.2, "KKE": 6.1, "EL": 5.1, "MeRA25": 3.8, "EK": 3.0},
      {"d": "2022-09-13", "ND": 36.0, "Syriza": 28.8, "PASOK": 12.3, "KKE": 6.4, "EL": 4.9, "MeRA25": 4.0, "EK": 3.3},
      {"d": "2022-09-21", "ND": 37.4, "Syriza": 27.6, "PASOK": 13.6, "KKE": 6.0, "EL": 5.2, "MeRA25": 3.6, "EK": 2.9},
      {"d": "2022-09-29", "ND": 35.5, "Syriza": 29.0, "PASOK": 12.8, "KKE": 6.3, "EL": 4.8, "MeRA25": 3.9, "EK": 3.4},
      {"d": "2022-10-06", "ND": 37.6, "Syriza": 27.4, "PASOK": 13.3, "KKE": 6.1, "EL": 5.1, "MeRA25": 3.5, "EK": 3.0},
      {"d": "2022-10-13", "ND": 35.4, "Syriza": 28.7, "PASOK": 12.2, "KKE": 6.4, "EL": 4.9, "MeRA25": 3.8, "EK": 3.4},
      {"d": "2022-10-20", "ND": 37.0, "Syriza": 27.5, "PASOK": 13.0, "KKE": 6.1, "EL": 5.2, "MeRA25": 3.4, "EK": 3.1},
      {"d": "2022-10-27", "ND": 35.9, "Syriza": 29.1, "PASOK": 12.5, "KKE": 6.3, "EL": 4.8, "MeRA25": 3.7, "EK": 3.3},
      {"d": "2022-11-03", "ND": 37.3, "Syriza": 27.8, "PASOK": 13.8, "KKE": 6.2, "EL": 5.1, "MeRA25": 3.5, "EK": 3.0},
      {"d": "2022-11-10", "ND": 35.6, "Syriza": 29.3, "PASOK": 14.6, "KKE": 6.5, "EL": 4.9, "MeRA25": 3.8, "EK": 3.4},
      {"d": "2022-11-17", "ND": 36.8, "Syriza": 27.7, "PASOK": 12.9, "KKE": 6.2, "EL": 5.2, "MeRA25": 3.4, "EK": 3.1},
      {"d": "2022-11-24", "ND": 35.8, "Syriza": 29.0, "PASOK": 13.1, "KKE": 6.4, "EL": 4.8, "MeRA25": 3.9, "EK": 3.5},
      {"d": "2022-12-01", "ND": 37.6, "Syriza": 28.0, "PASOK": 12.5, "KKE": 6.2, "EL": 5.1, "MeRA25": 3.6, "EK": 3.1},
      {"d": "2022-12-08", "ND": 36.1, "Syriza": 29.4, "PASOK": 12.0, "KKE": 6.5, "EL": 4.9, "MeRA25": 3.9, "EK": 3.5},
      {"d": "2022-12-15", "ND": 37.8, "Syriza": 28.2, "PASOK": 12.6, "KKE": 6.3, "EL": 5.2, "MeRA25": 3.7, "EK": 3.2},
      {"d": "2022-12-22", "ND": 36.2, "Syriza": 29.8, "PASOK": 11.7, "KKE": 6.6, "EL": 4.8, "MeRA25": 4.0, "EK": 3.6},
      {"d": "2023-01-05", "ND": 38.0, "Syriza": 28.6, "PASOK": 11.9, "KKE": 6.3, "EL": 5.1, "MeRA25": 3.8, "EK": 3.2},
      {"d": "2023-01-12", "ND": 36.6, "Syriza": 30.1, "PASOK": 11.3, "KKE": 6.7, "EL": 4.9, "MeRA25": 4.2, "EK": 3.7},
      {"d": "2023-01-19", "ND": 38.3, "Syriza": 28.9, "PASOK": 11.6, "KKE": 6.4, "EL": 5.3, "MeRA25": 3.9, "EK": 3.3},
      {"d": "2023-01-26", "ND": 36.8, "Syriza": 30.4, "PASOK": 11.0, "KKE": 6.8, "EL": 4.8, "MeRA25": 4.1, "EK": 3.8},
      {"d": "2023-02-02", "ND": 38.1, "Syriza": 29.0, "PASOK": 11.5, "KKE": 6.5, "EL": 5.2, "MeRA25": 4.0, "EK": 3.4},
      {"d": "2023-02-09", "ND": 36.9, "Syriza": 30.2, "PASOK": 10.9, "KKE": 6.8, "EL": 5.0, "MeRA25": 4.3, "EK": 3.7},
      {"d": "2023-02-16", "ND": 37.5, "Syriza": 29.1, "PASOK": 11.3, "KKE": 6.6, "EL": 5.1, "MeRA25": 4.1, "EK": 3.5},
      {"d": "2023-02-24", "ND": 34.8, "Syriza": 30.0, "PASOK": 10.8, "KKE": 7.0, "EL": 4.9, "MeRA25": 4.4, "EK": 3.9},
      {"d": "2023-03-03", "ND": 32.6, "Syriza": 29.6, "PASOK": 11.6, "KKE": 7.2, "EL": 4.8, "MeRA25": 4.6, "EK": 4.0},
      {"d": "2023-03-08", "ND": 33.8, "Syriza": 30.3, "PASOK": 10.7, "KKE": 6.9, "EL": 5.0, "MeRA25": 4.8, "EK": 3.8},
      {"d": "2023-03-14", "ND": 32.2, "Syriza": 28.0, "PASOK": 11.4, "KKE": 7.3, "EL": 4.7, "MeRA25": 4.5, "EK": 4.1},
      {"d": "2023-03-20", "ND": 34.5, "Syriza": 29.3, "PASOK": 10.6, "KKE": 6.8, "EL": 4.9, "MeRA25": 4.9, "EK": 3.7},
      {"d": "2023-03-27", "ND": 33.1, "Syriza": 27.8, "PASOK": 11.2, "KKE": 7.1, "EL": 4.6, "MeRA25": 4.4, "EK": 3.9},
      {"d": "2023-04-03", "ND": 34.9, "Syriza": 28.9, "PASOK": 10.5, "KKE": 6.7, "EL": 4.8, "MeRA25": 4.7, "EK": 3.6},
      {"d": "2023-04-10", "ND": 33.6, "Syriza": 27.6, "PASOK": 11.6, "KKE": 7.0, "EL": 4.5, "MeRA25": 4.8, "EK": 3.8},
      {"d": "2023-04-17", "ND": 35.5, "Syriza": 29.1, "PASOK": 10.2, "KKE": 6.6, "EL": 4.7, "MeRA25": 4.5, "EK": 3.5},
      {"d": "2023-04-24", "ND": 34.5, "Syriza": 28.2, "PASOK": 10.6, "KKE": 6.9, "EL": 4.4, "MeRA25": 4.9, "EK": 3.7},
      {"d": "2023-04-28", "ND": 35.8, "Syriza": 28.8, "PASOK": 10.0, "KKE": 6.5, "EL": 4.6, "MeRA25": 4.6, "EK": 3.4}
    ]
  },
  "encoding": {
    "x": {
      "field": "d",
      "type": "temporal",
      "scale": {"domain": [{"year": 2019, "month": 6, "date": 26}, {"year": 2023, "month": 5, "date": 6}]},
      "axis": {
        "values": [
          {"year": 2019, "month": 7, "date": 1}, {"year": 2019, "month": 9, "date": 1}, {"year": 2019, "month": 11, "date": 1},
          {"year": 2020, "month": 1, "date": 1}, {"year": 2020, "month": 3, "date": 1}, {"year": 2020, "month": 5, "date": 1},
          {"year": 2020, "month": 7, "date": 1}, {"year": 2020, "month": 9, "date": 1}, {"year": 2020, "month": 11, "date": 1},
          {"year": 2021, "month": 1, "date": 1}, {"year": 2021, "month": 3, "date": 1}, {"year": 2021, "month": 5, "date": 1},
          {"year": 2021, "month": 7, "date": 1}, {"year": 2021, "month": 9, "date": 1}, {"year": 2021, "month": 11, "date": 1},
          {"year": 2022, "month": 1, "date": 1}, {"year": 2022, "month": 3, "date": 1}, {"year": 2022, "month": 5, "date": 1},
          {"year": 2022, "month": 7, "date": 1}, {"year": 2022, "month": 9, "date": 1}, {"year": 2022, "month": 11, "date": 1},
          {"year": 2023, "month": 1, "date": 1}, {"year": 2023, "month": 3, "date": 1}, {"year": 2023, "month": 5, "date": 1}
        ],
        "format": "%b%y",
        "labelAngle": -90,
        "labelFontSize": 10,
        "labelColor": "#444444",
        "labelPadding": 5,
        "labelOverlap": false,
        "labelFlush": false,
        "ticks": false,
        "grid": false,
        "domainColor": "#8a8f99",
        "domainWidth": 1.5,
        "title": "Source: Polling agencies, Morgan Stanley Research",
        "titleFontSize": 8,
        "titleFontWeight": "normal",
        "titleColor": "#777777",
        "titleAlign": "left",
        "titleAnchor": "start",
        "titleBaseline": "middle",
        "titleX": -30,
        "titleY": 63
      }
    },
    "y": {
      "field": "value",
      "type": "quantitative",
      "scale": {"domain": [0, 50], "nice": false, "zero": true},
      "axis": {
        "values": [0, 10, 20, 30, 40, 50],
        "title": "Greece Opinion Polls, %",
        "titleAngle": 0,
        "titleX": 265,
        "titleY": -18,
        "titleAlign": "center",
        "titleBaseline": "middle",
        "titleFontSize": 12.5,
        "titleFontWeight": "bold",
        "titleColor": "#222222",
        "domain": false,
        "ticks": false,
        "gridColor": "#d9d9d9",
        "gridWidth": 1,
        "labelFontSize": 11,
        "labelColor": "#444444",
        "labelPadding": 12,
        "labelExpr": "datum.value == 0 ? '-' : datum.label"
      }
    }
  },
  "layer": [
    {
      "data": {"name": "polls"},
      "transform": [{"fold": ["ND", "Syriza", "PASOK", "KKE", "EL", "MeRA25", "EK"], "as": ["party", "value"]}],
      "mark": {"type": "circle", "size": 9, "opacity": 0.8},
      "encoding": {
        "color": {
          "field": "party",
          "type": "nominal",
          "scale": {"domain": ["ND", "Syriza", "PASOK", "KKE", "EL", "MeRA25", "EK"], "range": ["#86a9e0", "#e46a6a", "#8fd070", "#c8507e", "#7fd2ef", "#f2ad78", "#6c9bd9"]},
          "legend": null
        }
      }
    },
    {
      "data": {"name": "avg"},
      "transform": [{"fold": ["ND", "Syriza", "PASOK", "KKE", "EL", "MeRA25", "EK"], "as": ["party", "value"]}],
      "mark": {"type": "line"},
      "encoding": {
        "color": {
          "field": "party",
          "type": "nominal",
          "scale": {"domain": ["ND", "Syriza", "PASOK", "KKE", "EL", "MeRA25", "EK"], "range": ["#3f6fb6", "#b71c1c", "#2f5a20", "#9e1b4a", "#66c6ea", "#eaa56c", "#5f8cc8"]},
          "legend": {
            "orient": "none",
            "direction": "horizontal",
            "legendX": 383,
            "legendY": -25,
            "columns": 2,
            "title": null,
            "symbolType": "M-2.67,0H2.67",
            "symbolSize": 144,
            "symbolStrokeWidth": 2,
            "labelFontSize": 11,
            "labelColor": "#222222",
            "labelOffset": 13,
            "columnPadding": 18,
            "rowPadding": 2
          }
        },
        "strokeWidth": {
          "field": "party",
          "type": "nominal",
          "scale": {"domain": ["ND", "Syriza", "PASOK", "KKE", "EL", "MeRA25", "EK"], "range": [2.2, 2.2, 2.2, 1.6, 1.6, 1.6, 1.6]},
          "legend": null
        }
      }
    }
  ],
  "resolve": {"scale": {"color": "independent"}}
}
